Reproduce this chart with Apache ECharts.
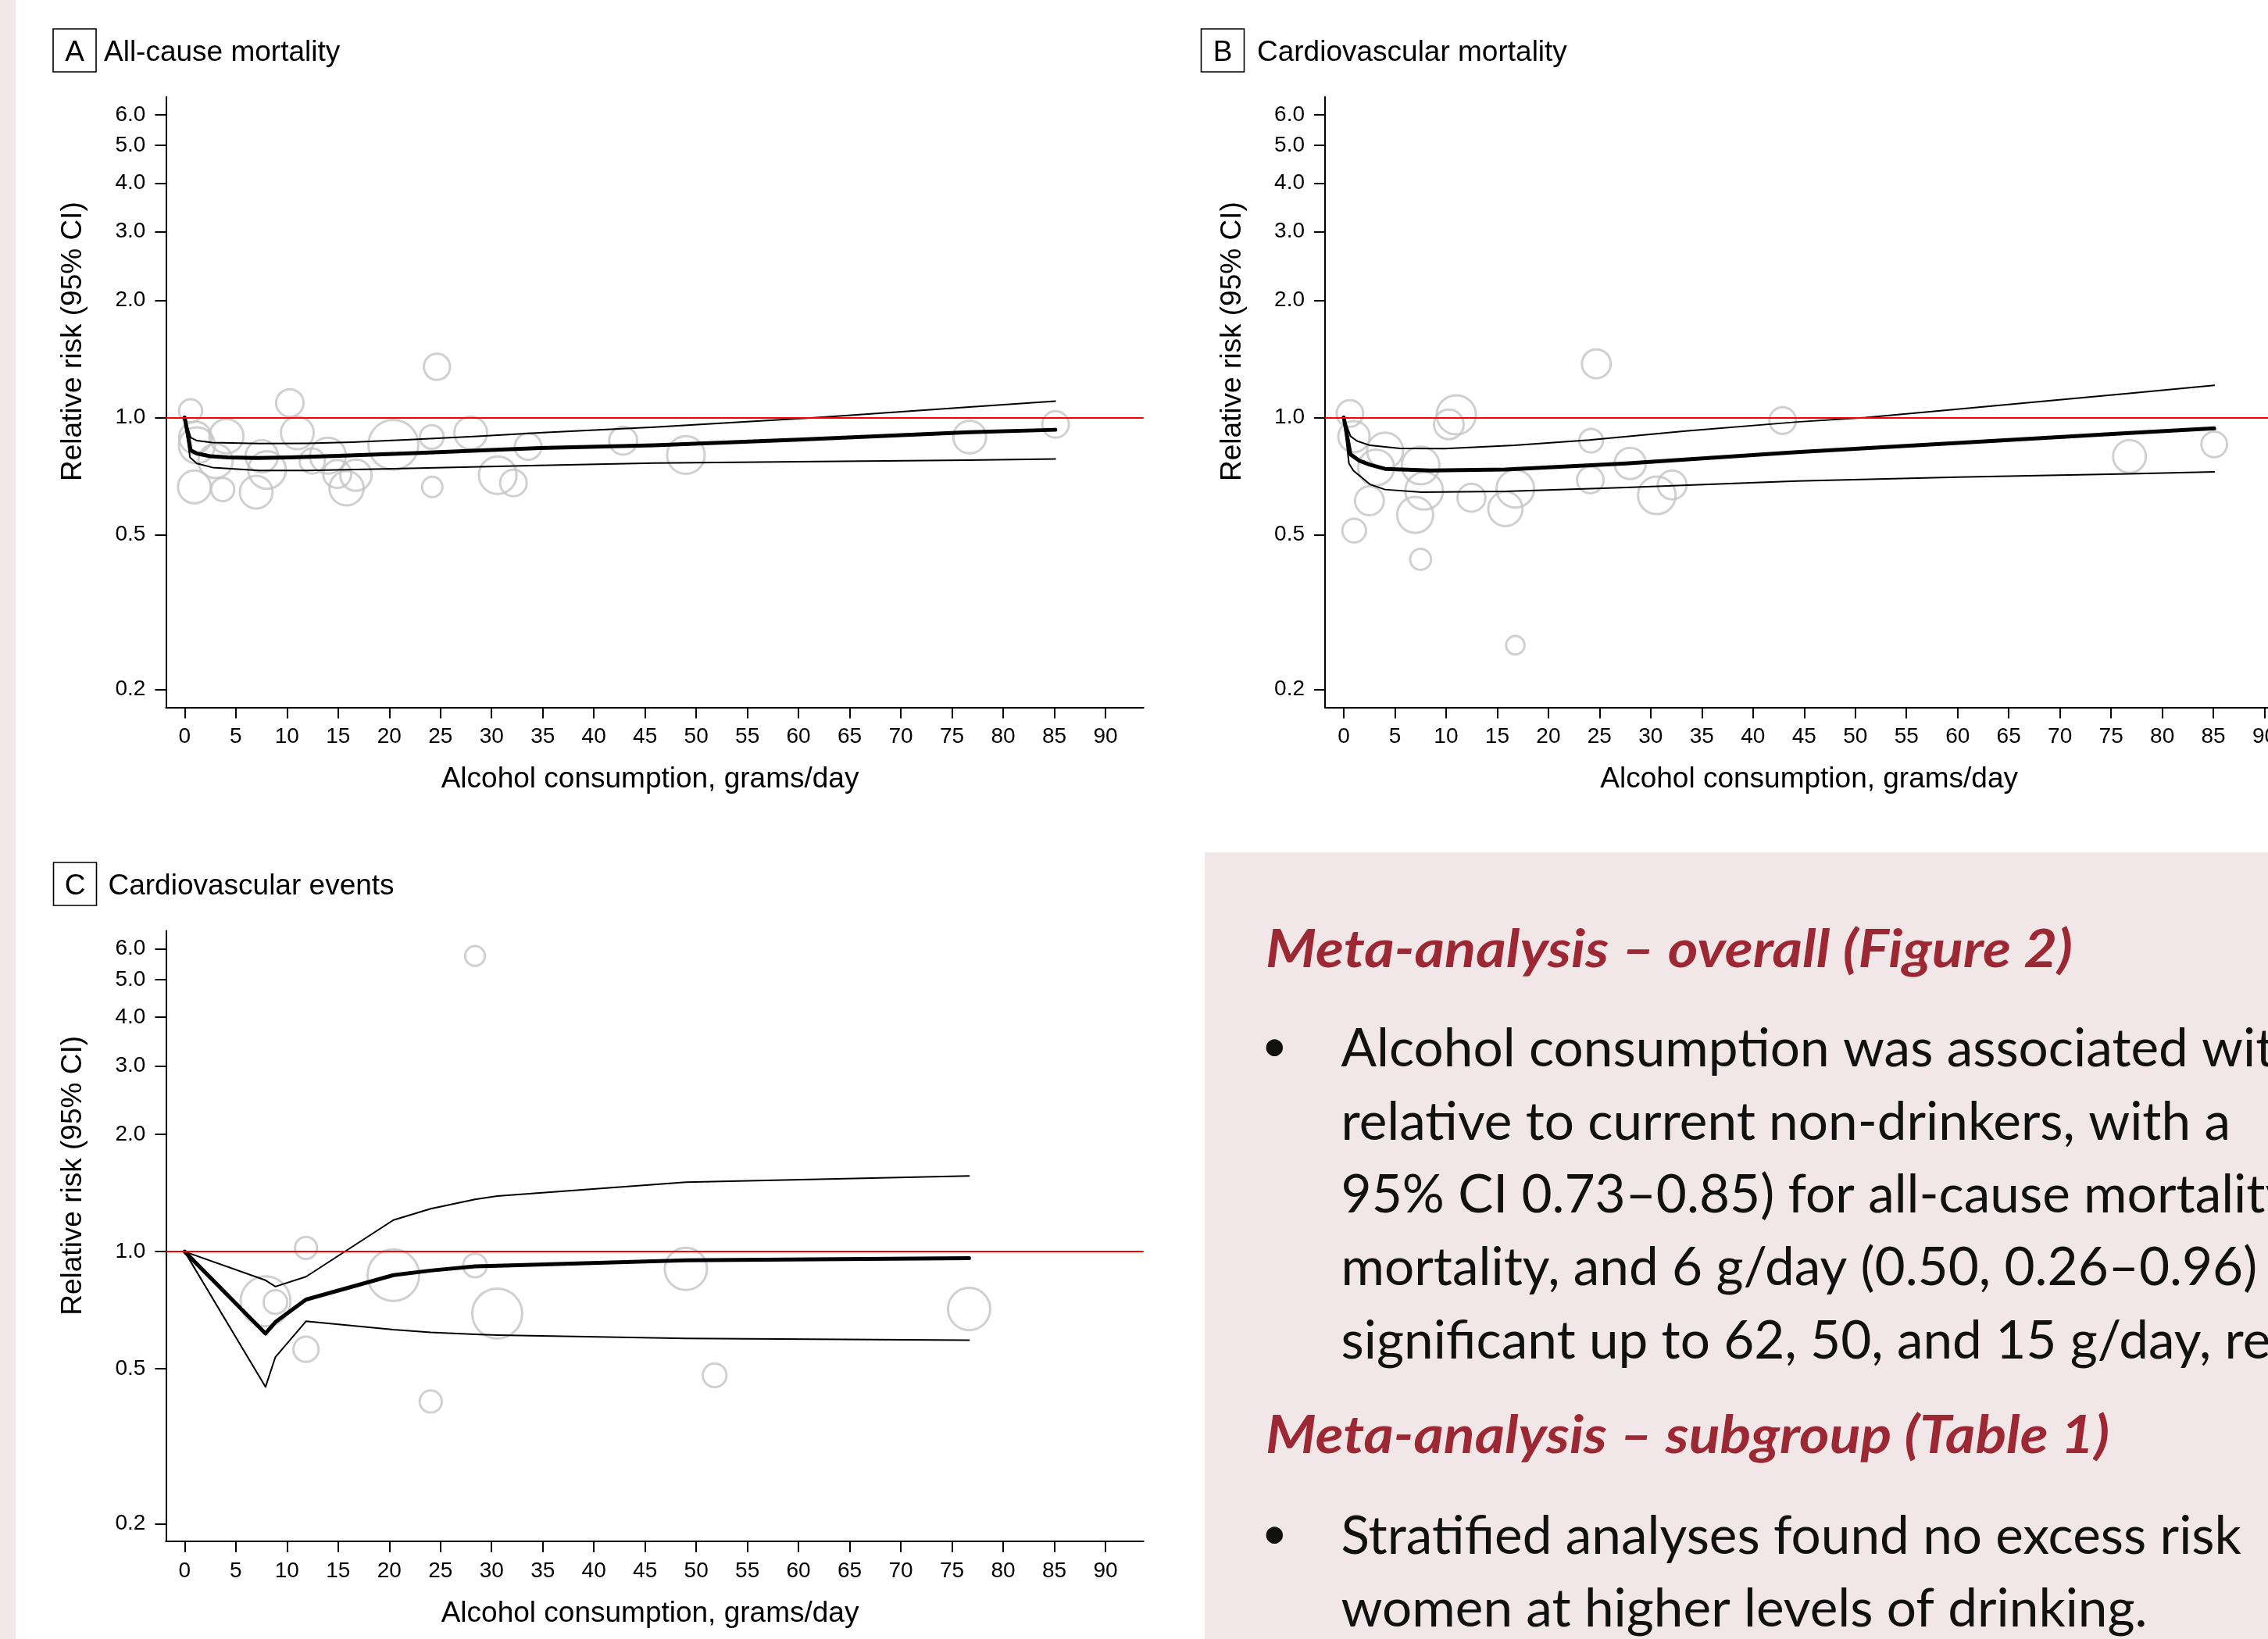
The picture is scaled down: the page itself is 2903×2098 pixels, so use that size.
<!DOCTYPE html>
<html>
<head>
<meta charset="utf-8">
<script src="https://cdn.jsdelivr.net/npm/echarts@6/dist/echarts.min.js"></script>
<style>
html,body{margin:0;padding:0;background:#ffffff;}
#chart{width:2903px;height:2098px;}
</style>
</head>
<body>
<div id="chart"></div>
<script>
// ---------------- DATA ----------------
const xTicks = [0,5,10,15,20,25,30,35,40,45,50,55,60,65,70,75,80,85,90];
const yTicks = [0.2,0.5,1,2,3,4,5,6];
const referenceRR = 1;
const panelLetters = ['A','B','C'];
const panelTitles = ['All-cause mortality','Cardiovascular mortality','Cardiovascular events'];
const xAxisTitle = 'Alcohol consumption, grams/day';
const yAxisTitle = 'Relative risk (95% CI)';

// study estimates: [grams/day, relative risk, study weight]
const bubblesA = [
  [0.58,1.04,2.2],[24.66,1.35,2.8],[10.28,1.09,3.1],[4.08,0.895,4.8],[1.04,0.888,4.3],
  [1.19,0.848,5.3],[11.01,0.913,4.4],[20.4,0.851,10.2],[24.15,0.891,2.3],[27.96,0.913,4.4],
  [33.57,0.842,2.9],[42.86,0.872,3.2],[3.02,0.773,4.8],[3.72,0.653,2.2],[0.95,0.663,4.4],
  [6.99,0.643,4.4],[7.54,0.795,4.3],[8.05,0.733,5.8],[12.47,0.773,2.6],[14.0,0.798,5.3],
  [14.91,0.716,3.2],[15.82,0.658,4.8],[16.74,0.711,4.0],[24.2,0.663,1.7],[30.6,0.711,5.8],
  [32.13,0.679,2.9],[48.99,0.801,5.8],[76.73,0.891,4.4],[85.12,0.96,2.9]
];
const bubblesB = [
  [24.69,1.374,3.4],[0.6,1.024,2.9],[11.0,1.016,6.3],[10.27,0.96,3.6],[1.0,0.893,4.0],
  [4.04,0.822,5.3],[3.16,0.744,5.3],[7.51,0.753,5.8],[7.86,0.648,5.8],[2.51,0.611,3.4],
  [6.98,0.562,5.3],[1.02,0.512,2.3],[7.51,0.432,1.8],[12.48,0.622,3.2],[16.77,0.656,5.8],
  [15.8,0.582,4.8],[16.77,0.26,1.4],[24.18,0.872,2.3],[24.1,0.691,2.9],[28.0,0.762,4.0],
  [30.6,0.631,5.8],[32.1,0.671,3.4],[42.9,0.982,2.9],[76.8,0.794,4.4],[85.08,0.853,2.7]
];
const bubblesC = [
  [28.38,5.75,1.6],[11.86,1.022,2.0],[7.9,0.745,10.2],[8.87,0.742,2.3],[20.4,0.870,10.9],
  [28.38,0.921,2.3],[30.55,0.693,10.2],[11.86,0.561,2.6],[24.05,0.412,2.0],[48.99,0.903,7.3],
  [76.67,0.712,7.3],[51.8,0.481,2.3]
];

// pooled dose-response curves: [grams/day, relative risk]
const estimateA = [[0,1.0],[0.59,0.823],[1.2,0.808],[2.5,0.795],[4.24,0.79],[7,0.787],[10.3,0.79],[15,0.797],[22.5,0.81],[30,0.825],[34.7,0.835],[45.9,0.848],[60,0.877],[76.7,0.917],[85.1,0.93]];
const upperA = [[0,1.0],[0.59,0.888],[1.2,0.872],[2.7,0.862],[7.3,0.857],[12,0.858],[16.4,0.864],[22,0.877],[28.6,0.895],[35,0.915],[45.9,0.945],[61.8,1.0],[76.7,1.064],[85.1,1.102]];
const lowerA = [[0,1.0],[0.52,0.79],[1.19,0.762],[2.72,0.744],[7.3,0.731],[12,0.731],[19.5,0.738],[34.7,0.753],[45.9,0.764],[60,0.77],[76.7,0.777],[85.1,0.782]];

const estimateB = [[0,1.0],[0.66,0.804],[1.5,0.775],[2.57,0.756],[4.04,0.738],[8.45,0.731],[15.8,0.735],[27.6,0.762],[44.3,0.815],[60,0.86],[76.8,0.912],[85.08,0.938]];
const upperB = [[0,1.0],[0.66,0.895],[1.3,0.87],[2.57,0.848],[5.51,0.833],[9.9,0.832],[16.7,0.848],[24.0,0.875],[33.4,0.923],[44.3,0.974],[51.0,1.0],[60,1.051],[76.8,1.154],[85.08,1.209]];
const lowerB = [[0,1.0],[0.51,0.762],[0.95,0.730],[2.57,0.673],[4.04,0.653],[7.57,0.643],[15.8,0.646],[27.6,0.661],[44.3,0.687],[60,0.703],[76.8,0.717],[85.08,0.725]];

const estimateC = [[0,1.0],[7.9,0.616],[8.87,0.659],[11.86,0.753],[20.4,0.870],[24.05,0.894],[28.38,0.916],[30.55,0.92],[49,0.95],[76.67,0.962]];
const upperC = [[0,1.0],[7.9,0.844],[8.87,0.813],[11.86,0.862],[20.4,1.205],[24.05,1.289],[28.38,1.362],[30.55,1.389],[49,1.508],[76.67,1.564]];
const lowerC = [[0,1.0],[7.9,0.449],[8.87,0.536],[11.86,0.662],[20.4,0.630],[24.05,0.62],[28.38,0.613],[30.55,0.61],[49,0.598],[76.67,0.592]];

// side panel text
const heading1 = 'Meta-analysis \u2013 overall (Figure 2)';
const bullet1Lines = [
  'Alcohol consumption was associated with',
  'relative to current non-drinkers, with a',
  '95% CI 0.73\u20130.85) for all-cause mortality',
  'mortality, and 6 g/day (0.50, 0.26\u20130.96)',
  'significant up to 62, 50, and 15 g/day, respectively'
];
const heading2 = 'Meta-analysis \u2013 subgroup (Table 1)';
const bullet2Lines = [
  'Stratified analyses found no excess risk',
  'women at higher levels of drinking.'
];

// ---------------- LAYOUT / STYLE ----------------
const FONT = '"Liberation Sans", Arial, sans-serif';
const PINK = '#f1e6e8';
const GRID_W = 1251.3, GRID_H = 781.5;
const gridPos = [{left:212.4, top:123.9},{left:1696, top:123.9},{left:212.4, top:1191.6}];
const X_MIN = -1.83, X_MAX = 93.72, Y_MIN = 0.18, Y_MAX = 6.67;
const panels = [
  {bubbles:bubblesA, est:estimateA, up:upperA, lo:lowerA},
  {bubbles:bubblesB, est:estimateB, up:upperB, lo:lowerB},
  {bubbles:bubblesC, est:estimateC, up:upperC, lo:lowerC}
];

const grid = [], xAxis = [], yAxis = [], series = [];
panels.forEach((p, i) => {
  grid.push({left:gridPos[i].left, top:gridPos[i].top, width:GRID_W, height:GRID_H,
             containLabel:false, outerBoundsMode:'none', show:false});
  xAxis.push({
    type:'value', gridIndex:i, min:X_MIN, max:X_MAX, position:'bottom',
    name:xAxisTitle, nameLocation:'middle', nameGap:74,
    nameTextStyle:{fontFamily:FONT, fontSize:37, color:'#000', padding:[0,12,0,0]},
    axisLine:{show:true, onZero:false, lineStyle:{color:'#000', width:2}},
    axisTick:{show:true, length:14, lineStyle:{color:'#000', width:2}, customValues:xTicks},
    axisLabel:{show:true, margin:24, fontFamily:FONT, fontSize:28, color:'#000', customValues:xTicks,
               formatter:(v)=>String(Math.round(v))},
    splitLine:{show:false}
  });
  yAxis.push({
    type:'log', logBase:10, gridIndex:i, min:Y_MIN, max:Y_MAX, position:'left',
    name:yAxisTitle, nameLocation:'middle', nameGap:100, nameRotate:90,
    nameTextStyle:{fontFamily:FONT, fontSize:37, color:'#000', padding:[0,0,0,155]},
    axisLine:{show:true, onZero:false, lineStyle:{color:'#000', width:2}},
    axisTick:{show:true, length:14, lineStyle:{color:'#000', width:2}, customValues:yTicks},
    axisLabel:{show:true, margin:26, fontFamily:FONT, fontSize:28, color:'#000', customValues:yTicks,
               formatter:(v)=>Number(v).toFixed(1)},
    splitLine:{show:false}
  });
  series.push({
    type:'scatter', xAxisIndex:i, yAxisIndex:i, data:p.bubbles, z:2,
    symbol:'circle', symbolSize:(d)=>20*Math.sqrt(d[2]),
    itemStyle:{color:'rgba(255,255,255,0)', borderColor:'#c4c4c4', borderWidth:3},
    emphasis:{disabled:true}, silent:true,
    markLine:{silent:true, symbol:['none','none'], label:{show:false},
              lineStyle:{color:'#ff0000', width:2, type:'solid'},
              data:[{yAxis:referenceRR}], animation:false}
  });
  [[p.lo,2],[p.up,2],[p.est,5]].forEach(([d,w]) => {
    series.push({type:'line', xAxisIndex:i, yAxisIndex:i, data:d, z:4,
      showSymbol:false, symbol:'none', smooth:false, silent:true,
      lineStyle:{color:'#000', width:w, cap:'round', join:'round'}, emphasis:{disabled:true}});
  });
});

// ---------------- GRAPHIC (titles, side panel) ----------------
const mctx = document.createElement('canvas').getContext('2d');
function measure(t, font){ mctx.font = font; return mctx.measureText(t).width; }
const HS = 67;
const headFont = 'italic bold ' + HS + 'px Lato';
const bodyFont = HS + 'px Lato';
const sH1 = 1033 / measure(heading1, headFont);
const sH2 = 1080 / measure(heading2, headFont);
const sBody = 0.975 * 1058.5 / measure(bullet2Lines[1], bodyFont);

const graphic = [];
graphic.push({type:'rect', shape:{x:0, y:0, width:20, height:2098}, style:{fill:PINK}, z:0, silent:true});
graphic.push({type:'rect', shape:{x:1542, y:1091, width:1361, height:1007}, style:{fill:PINK}, z:0, silent:true});

const titleBoxes = [
  {bx:68, by:37, tx:133, cy:68},
  {bx:1537.5, by:37, tx:1609, cy:68},
  {bx:68.5, by:1104, tx:138.5, cy:1135}
];
titleBoxes.forEach((t,i) => {
  graphic.push({type:'rect', shape:{x:t.bx, y:t.by, width:55, height:55},
    style:{fill:'none', stroke:'#000', lineWidth:1.6}, z:5, silent:true});
  graphic.push({type:'text', x:t.bx+27.5, y:t.cy, z:5, silent:true,
    style:{text:panelLetters[i], fontFamily:FONT, fontSize:37, fill:'#000', align:'center', verticalAlign:'middle'}});
  graphic.push({type:'text', x:t.tx, y:t.cy, z:5, silent:true,
    style:{text:panelTitles[i], fontFamily:FONT, fontSize:37, fill:'#000', align:'left', verticalAlign:'middle'}});
});

const MID_BODY = 19, MID_HEAD = 22, MID_BULLET = 22;
function headText(txt, base, s){
  graphic.push({type:'text', x:1620, y:base-MID_HEAD, scaleX:s, z:5, silent:true,
    style:{text:txt, fontFamily:'Lato', fontStyle:'italic', fontWeight:'bold', fontSize:HS,
           fill:'#9b2832', align:'left', verticalAlign:'middle'}});
}
function bodyText(txt, base){
  graphic.push({type:'text', x:1716.5, y:base-MID_BODY, scaleX:sBody, z:5, silent:true,
    style:{text:txt, fontFamily:'Lato', fontSize:HS, fill:'#111', align:'left', verticalAlign:'middle'}});
}
function bullet(base){
  graphic.push({type:'text', x:1631.3, y:base-MID_BULLET, z:5, silent:true,
    style:{text:'\u2022', fontFamily:'Lato', fontSize:58, fill:'#111', align:'center', verticalAlign:'middle'}});
}
headText(heading1, 1238.3, sH1);
const b1Base = [1362.7, 1456.0, 1549.3, 1642.6, 1736.0];
bullet(b1Base[0]);
bullet1Lines.forEach((t,k)=>bodyText(t, b1Base[k]));
headText(heading2, 1860, sH2);
const b2Base = [1986, 2079.3];
bullet(b2Base[0]);
bullet2Lines.forEach((t,k)=>bodyText(t, b2Base[k]));

const chart = echarts.init(document.getElementById('chart'), null, {renderer:'canvas', width:2903, height:2098});
chart.setOption({
  backgroundColor:'#ffffff',
  animation:false,
  textStyle:{fontFamily:FONT},
  grid, xAxis, yAxis, series, graphic
});
</script>
</body>
</html>
